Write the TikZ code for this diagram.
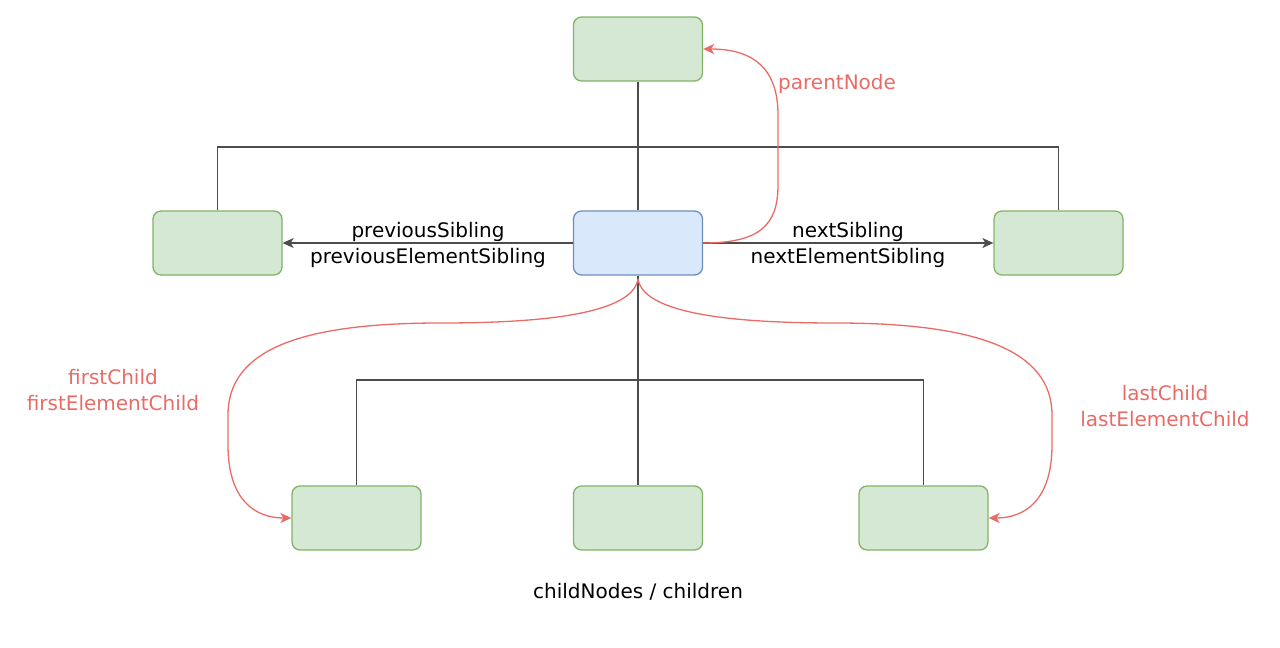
\documentclass[tikz,border=0pt]{standalone}
\usepackage{fontspec}
\setmainfont{DejaVu Sans}
\usetikzlibrary{arrows.meta}
\definecolor{gfill}{HTML}{D5E8D4}
\definecolor{gdraw}{HTML}{82B366}
\definecolor{bfill}{HTML}{DAE8FC}
\definecolor{bdraw}{HTML}{6C8EBF}
\definecolor{redc}{HTML}{EA6B66}
\definecolor{grayc}{HTML}{4D4D4D}
\begin{document}
\begin{tikzpicture}[x=1pt,y=-1pt,
  gbox/.style={draw=gdraw,fill=gfill,line width=1.3pt,rounded corners=8pt,minimum width=129pt,minimum height=64pt,inner sep=0pt},
  bbox/.style={draw=bdraw,fill=bfill,line width=1.3pt,rounded corners=8pt,minimum width=129pt,minimum height=64pt,inner sep=0pt},
  tree/.style={draw=grayc,line width=1.4pt},
  garrow/.style={draw=grayc,line width=1.4pt,-{Stealth[length=11pt,width=10pt,inset=3pt]}},
  rarrow/.style={draw=redc,line width=1.3pt,-{Stealth[length=11pt,width=10pt,inset=3pt]}},
  lbl/.style={font=\fontsize{20}{26}\selectfont,align=center,inner sep=0pt},
  rlbl/.style={lbl,text=redc}]
\useasboundingbox (0,0) rectangle (1280,648);
\node[gbox] (top) at (638,49) {};
\node[gbox] (left) at (217.5,243) {};
\node[bbox] (cur) at (638,243) {};
\node[gbox] (right) at (1058.5,243) {};
\node[gbox] (bl) at (356.5,518) {};
\node[gbox] (bm) at (638,518) {};
\node[gbox] (br) at (923.5,518) {};
\coordinate (hu) at (638,147);
\coordinate (hd) at (638,380);
% upper tree
\draw[tree] (top.south) -- (cur.north);
\draw[tree] (left.north) |- (hu) -| (right.north);
% lower tree
\draw[tree] (cur.south) -- (bm.north);
\draw[tree] (bl.north) |- (hd) -| (br.north);
% sibling arrows
\draw[garrow] (cur.west) -- (left.east);
\draw[garrow] (cur.east) -- (right.west);
\node[lbl] (prevl) at (428,245) {previousSibling\\previousElementSibling};
\node[lbl] (nextl) at (848,245) {nextSibling\\nextElementSibling};
% parent
\draw[rarrow] (cur.east) .. controls (760,243) and (778,225) .. (778,185) -- (778,115) .. controls (778,70) and (755,49) .. (top.east);
\node[rlbl,anchor=west] (pl) at (778,84) {parentNode};
% first / last child
\coordinate (cs) at (638,279);
\draw[rarrow] (cs) .. controls (632,318) and (520,323) .. (440,323) .. controls (300,323) and (228,350) .. (228,415) -- (228,445) .. controls (228,500) and (255,518) .. (bl.west);
\draw[rarrow] (cs) .. controls (644,318) and (756,323) .. (836,323) .. controls (976,323) and (1052,350) .. (1052,415) -- (1052,445) .. controls (1052,500) and (1025,518) .. (br.east);
\node[rlbl] (fl) at (113,390) {firstChild\\firstElementChild};
\node[rlbl] (ll) at (1165,406) {lastChild\\lastElementChild};
\node[lbl] (cn) at (638,592) {childNodes / children};
\end{tikzpicture}
\end{document}
